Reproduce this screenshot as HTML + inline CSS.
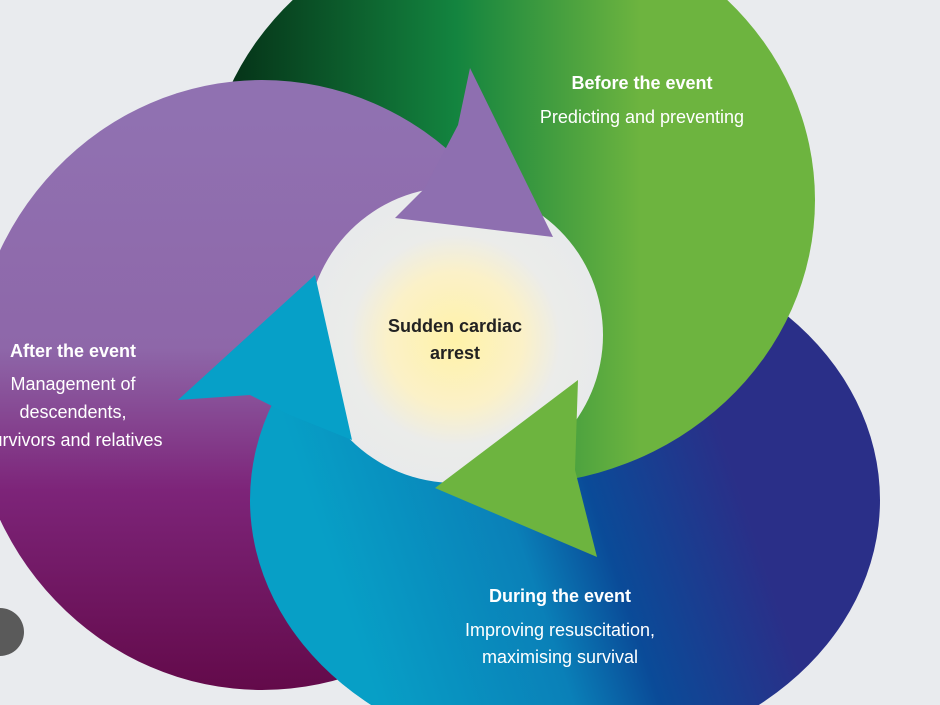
<!DOCTYPE html>
<html><head><meta charset="utf-8"><style>
html,body{margin:0;padding:0;background:#e9ebee;overflow:hidden;width:940px;height:705px;}
svg{display:block;font-family:"Liberation Sans",sans-serif;}
</style></head><body>
<svg width="940" height="705" viewBox="0 0 940 705">
<defs>
<linearGradient id="g" x1="230" y1="0" x2="640" y2="0" gradientUnits="userSpaceOnUse">
<stop offset="0" stop-color="#053318"/><stop offset="0.55" stop-color="#13843f"/><stop offset="1" stop-color="#6db43f"/></linearGradient>
<linearGradient id="p" x1="0" y1="120" x2="0" y2="690" gradientUnits="userSpaceOnUse">
<stop offset="0" stop-color="#9071b1"/><stop offset="0.4" stop-color="#8e67a9"/><stop offset="0.65" stop-color="#7d2479"/><stop offset="1" stop-color="#630a4a"/></linearGradient>
<linearGradient id="b" x1="330" y1="560" x2="720" y2="430" gradientUnits="userSpaceOnUse">
<stop offset="0" stop-color="#079fc6"/><stop offset="0.45" stop-color="#0a80b8"/><stop offset="0.65" stop-color="#0a4b98"/><stop offset="1" stop-color="#2a2f88"/></linearGradient>
<radialGradient id="c" cx="455" cy="340" r="150" gradientUnits="userSpaceOnUse">
<stop offset="0" stop-color="#fff2a8"/><stop offset="0.45" stop-color="#fbf1c8"/><stop offset="0.7" stop-color="#ebecea"/><stop offset="1" stop-color="#e8eaeb"/></radialGradient>
<clipPath id="cl"><polygon points="0,400 440,400 560,470 560,705 0,705"/></clipPath>
</defs>
<rect width="940" height="705" fill="#e9ebee"/>
<ellipse cx="565" cy="500" rx="315" ry="260" fill="url(#b)"/>
<ellipse cx="510" cy="200" rx="305" ry="285" fill="url(#g)"/>
<ellipse cx="262" cy="385" rx="292" ry="305" fill="url(#p)"/>
<ellipse cx="565" cy="500" rx="315" ry="260" fill="url(#b)" clip-path="url(#cl)"/>
<circle cx="455" cy="335" r="148" fill="url(#c)"/>
<polygon points="395,218 425,188 458,125 470,68 553,237" fill="#8e6fb0"/>
<polygon points="578,380 575,470 597,557 435,488" fill="#6db43f"/>
<polygon points="178,400 315,275 352,440 290,415 250,395" fill="#06a0c8"/>
<circle cx="0" cy="632" r="24" fill="#5a5a5a"/>
<g fill="#fff" text-anchor="middle">
<text x="642" y="89" font-size="18" font-weight="bold">Before the event</text>
<text x="642" y="123" font-size="18">Predicting and preventing</text>
<text x="73" y="357" font-size="18" font-weight="bold">After the event</text>
<text x="73" y="390" font-size="18">Management of</text>
<text x="73" y="418" font-size="18">descendents,</text>
<text x="73" y="446" font-size="18">survivors and relatives</text>
<text x="560" y="602" font-size="18" font-weight="bold">During the event</text>
<text x="560" y="636" font-size="18">Improving resuscitation,</text>
<text x="560" y="663" font-size="18">maximising survival</text>
</g>
<g fill="#222" text-anchor="middle" font-weight="bold" font-size="18">
<text x="455" y="332">Sudden cardiac</text>
<text x="455" y="359">arrest</text>
</g>
</svg>
</body></html>
